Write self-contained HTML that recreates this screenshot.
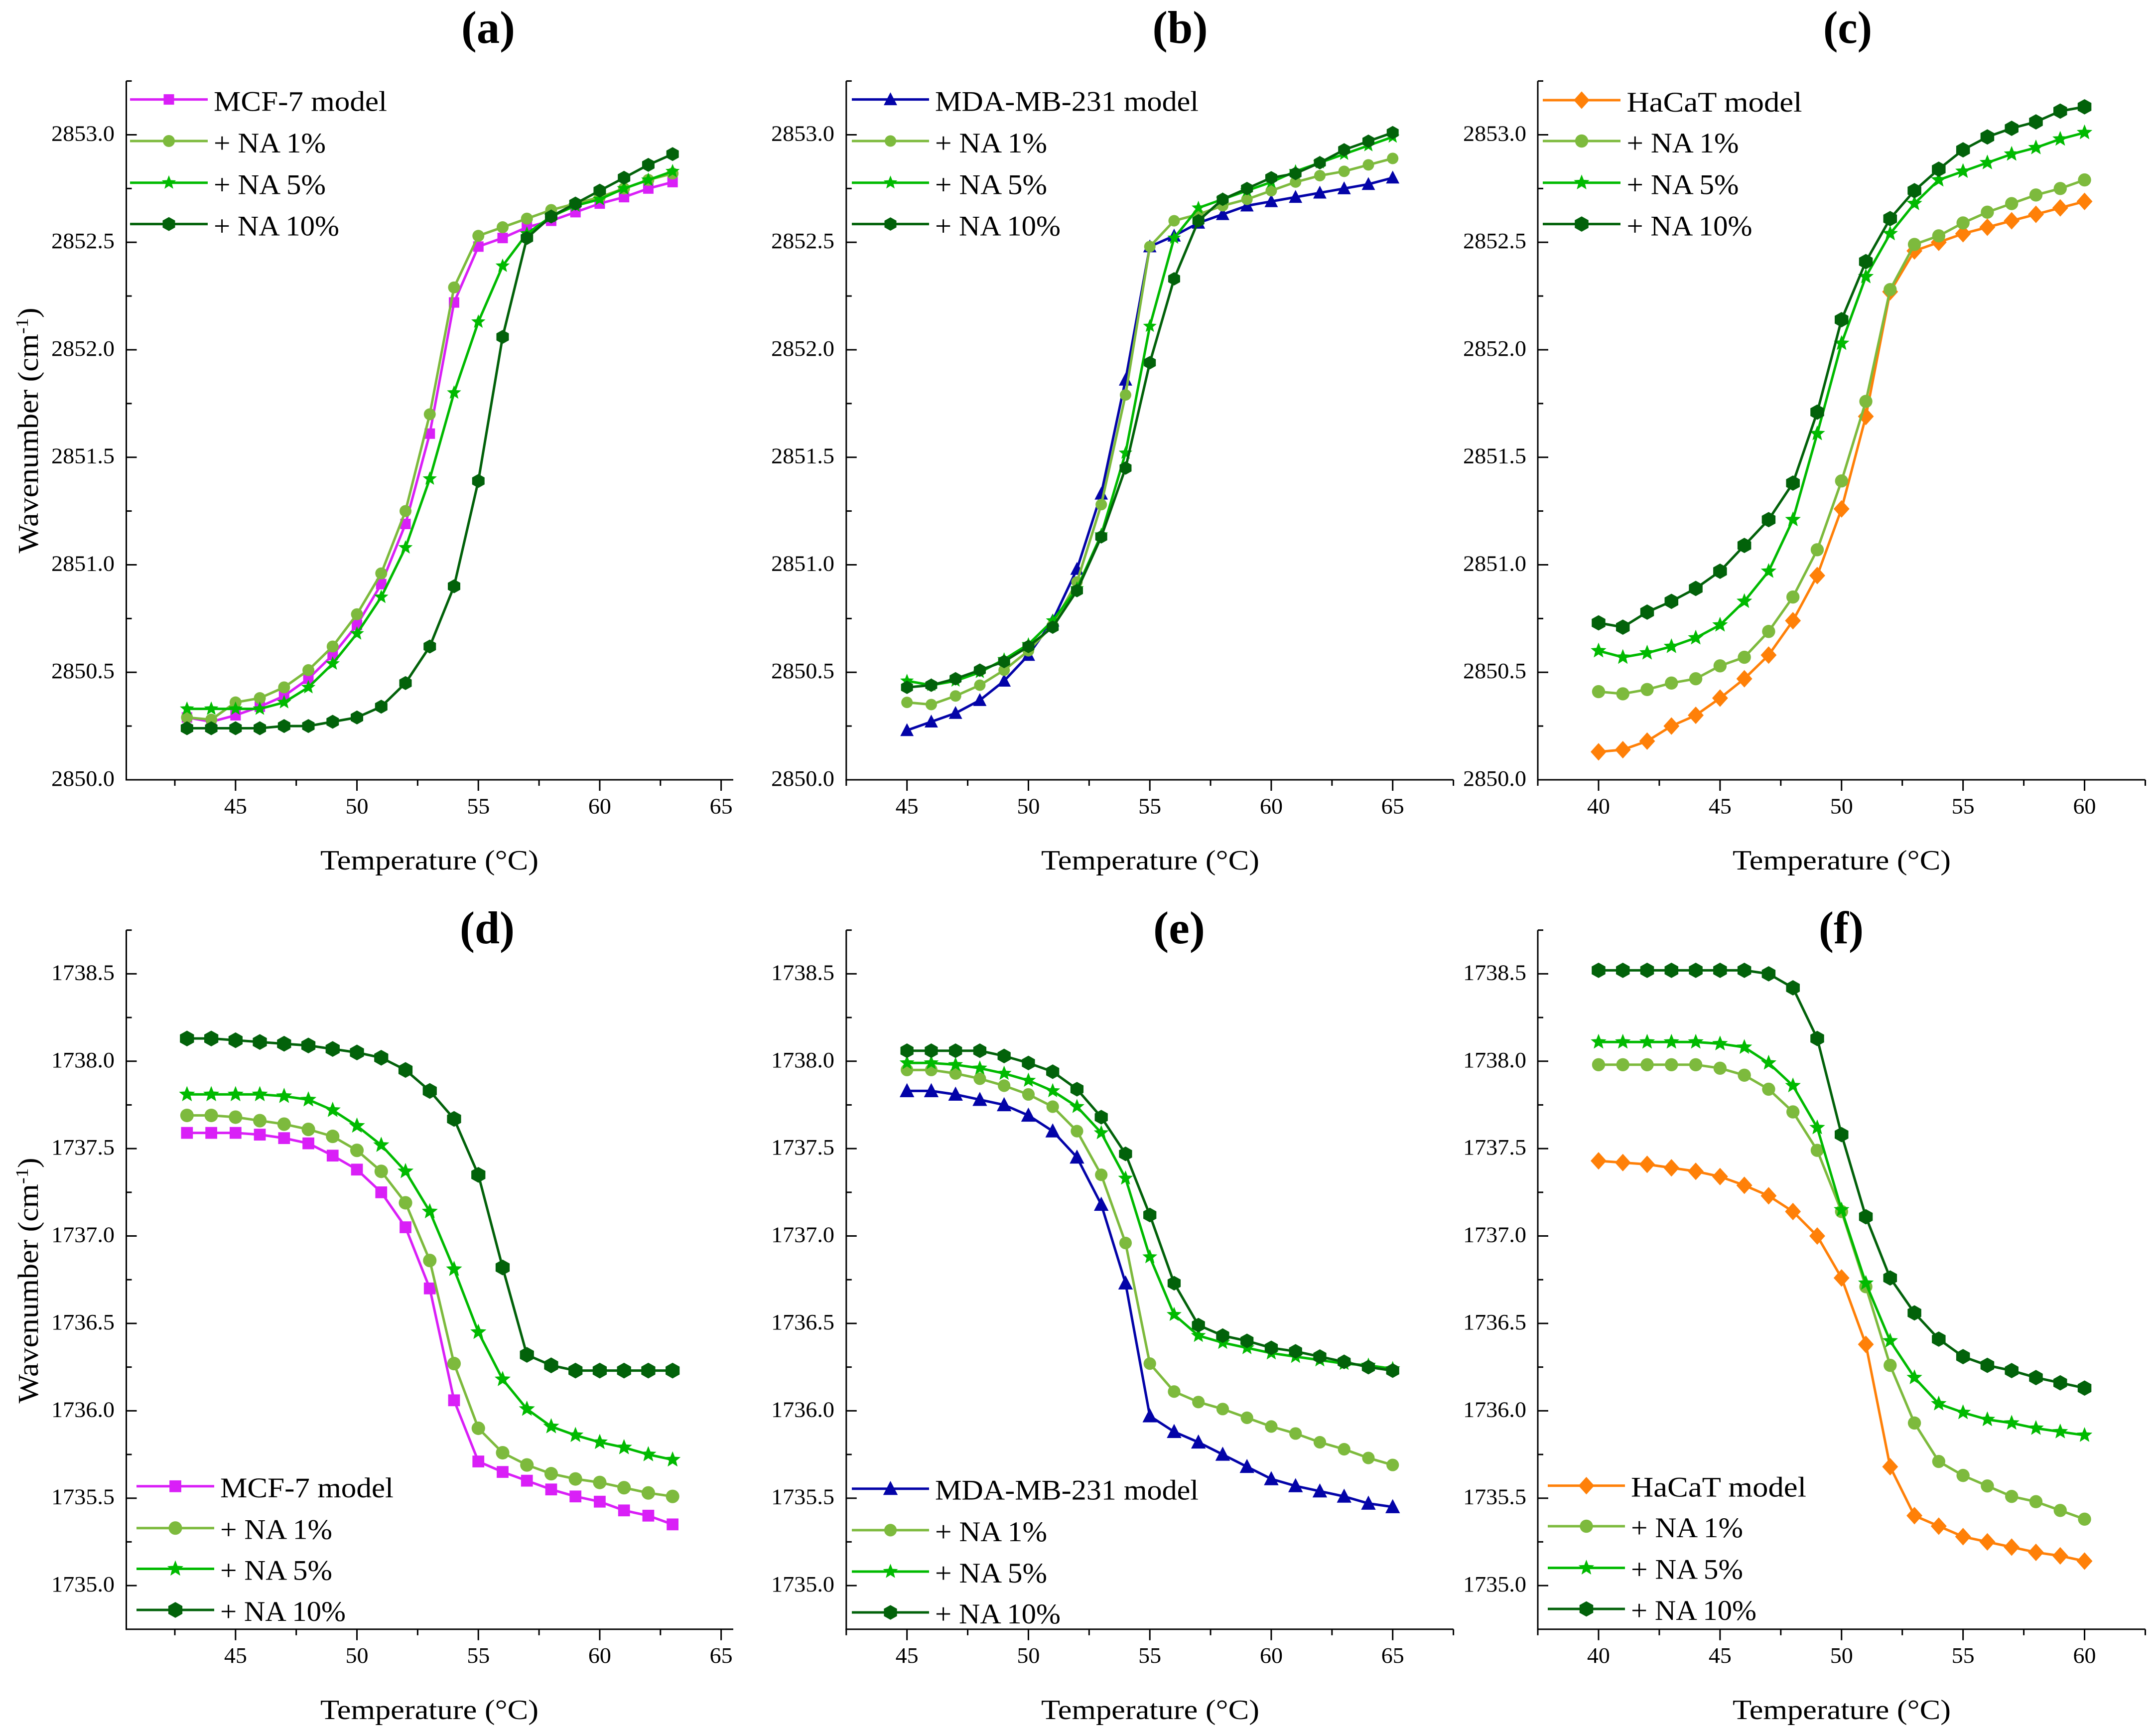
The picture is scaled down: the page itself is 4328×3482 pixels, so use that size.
<!DOCTYPE html>
<html lang="en">
<head>
<meta charset="utf-8">
<title>Wavenumber vs temperature panels</title>
<style>
html,body{margin:0;padding:0;background:#fff}
svg{display:block}
text{font-family:"Liberation Serif",serif;fill:#000}
</style>
</head>
<body>
<svg id="figure" xmlns="http://www.w3.org/2000/svg" width="4328" height="3482" viewBox="0 0 4328 3482">
<rect x="0" y="0" width="4328" height="3482" fill="#ffffff"/>
</svg>
<script>
// ---- shared categories and tick labels ----
const tempsAD = [43,44,45,46,47,48,49,50,51,52,53,54,55,56,57,58,59,60,61,62,63];
const tempsBE = [45,46,47,48,49,50,51,52,53,54,55,56,57,58,59,60,61,62,63,64,65];
const tempsCF = [40,41,42,43,44,45,46,47,48,49,50,51,52,53,54,55,56,57,58,59,60];
const xMajorAB = [45,50,55,60,65];
const xMinorAD = [42.5,47.5,52.5,57.5,62.5];
const xMinorBE = [42.5,47.5,52.5,57.5,62.5,67.5];
const xMajorCF = [40,45,50,55,60];
const xMinorCF = [37.5,42.5,47.5,52.5,57.5,62.5];
const yMajorTop = [2850.0,2850.5,2851.0,2851.5,2852.0,2852.5,2853.0];
const yMinorTop = [2850.25,2850.75,2851.25,2851.75,2852.25,2852.75,2853.25];
const yMajorBottom = [1735.0,1735.5,1736.0,1736.5,1737.0,1737.5,1738.0,1738.5];
const yMinorBottom = [1735.25,1735.75,1736.25,1736.75,1737.25,1737.75,1738.25,1738.75];

// ---- panel (a) ----
const aModel = [2850.29,2850.27,2850.30,2850.34,2850.39,2850.47,2850.58,2850.72,2850.91,2851.19,2851.61,2852.22,2852.48,2852.52,2852.57,2852.60,2852.64,2852.68,2852.71,2852.75,2852.78];
const aNa1 = [2850.29,2850.28,2850.36,2850.38,2850.43,2850.51,2850.62,2850.77,2850.96,2851.25,2851.70,2852.29,2852.53,2852.57,2852.61,2852.65,2852.68,2852.71,2852.75,2852.79,2852.82];
const aNa5 = [2850.33,2850.33,2850.33,2850.33,2850.36,2850.43,2850.54,2850.68,2850.85,2851.08,2851.40,2851.80,2852.13,2852.39,2852.54,2852.62,2852.67,2852.70,2852.75,2852.79,2852.83];
const aNa10 = [2850.24,2850.24,2850.24,2850.24,2850.25,2850.25,2850.27,2850.29,2850.34,2850.45,2850.62,2850.90,2851.39,2852.06,2852.52,2852.62,2852.68,2852.74,2852.80,2852.86,2852.91];

// ---- panel (b) ----
const bModel = [2850.23,2850.27,2850.31,2850.37,2850.46,2850.58,2850.74,2850.98,2851.33,2851.86,2852.48,2852.53,2852.59,2852.63,2852.67,2852.69,2852.71,2852.73,2852.75,2852.77,2852.80];
const bNa1 = [2850.36,2850.35,2850.39,2850.44,2850.51,2850.60,2850.72,2850.92,2851.28,2851.79,2852.48,2852.60,2852.63,2852.67,2852.70,2852.74,2852.78,2852.81,2852.83,2852.86,2852.89];
const bNa5 = [2850.46,2850.44,2850.46,2850.50,2850.56,2850.63,2850.74,2850.89,2851.14,2851.52,2852.11,2852.52,2852.66,2852.70,2852.74,2852.78,2852.83,2852.87,2852.91,2852.95,2852.99];
const bNa10 = [2850.43,2850.44,2850.47,2850.51,2850.55,2850.62,2850.71,2850.88,2851.13,2851.45,2851.94,2852.33,2852.60,2852.70,2852.75,2852.80,2852.82,2852.87,2852.93,2852.97,2853.01];

// ---- panel (c) ----
const cModel = [2850.13,2850.14,2850.18,2850.25,2850.30,2850.38,2850.47,2850.58,2850.74,2850.95,2851.26,2851.69,2852.27,2852.46,2852.50,2852.54,2852.57,2852.60,2852.63,2852.66,2852.69];
const cNa1 = [2850.41,2850.40,2850.42,2850.45,2850.47,2850.53,2850.57,2850.69,2850.85,2851.07,2851.39,2851.76,2852.28,2852.49,2852.53,2852.59,2852.64,2852.68,2852.72,2852.75,2852.79];
const cNa5 = [2850.60,2850.57,2850.59,2850.62,2850.66,2850.72,2850.83,2850.97,2851.21,2851.61,2852.03,2852.34,2852.54,2852.68,2852.79,2852.83,2852.87,2852.91,2852.94,2852.98,2853.01];
const cNa10 = [2850.73,2850.71,2850.78,2850.83,2850.89,2850.97,2851.09,2851.21,2851.38,2851.71,2852.14,2852.41,2852.61,2852.74,2852.84,2852.93,2852.99,2853.03,2853.06,2853.11,2853.13];

// ---- panel (d) ----
const dModel = [1737.59,1737.59,1737.59,1737.58,1737.56,1737.53,1737.46,1737.38,1737.25,1737.05,1736.70,1736.06,1735.71,1735.65,1735.60,1735.55,1735.51,1735.48,1735.43,1735.40,1735.35];
const dNa1 = [1737.69,1737.69,1737.68,1737.66,1737.64,1737.61,1737.57,1737.49,1737.37,1737.19,1736.86,1736.27,1735.90,1735.76,1735.69,1735.64,1735.61,1735.59,1735.56,1735.53,1735.51];
const dNa5 = [1737.81,1737.81,1737.81,1737.81,1737.80,1737.78,1737.72,1737.63,1737.52,1737.37,1737.14,1736.81,1736.45,1736.18,1736.01,1735.91,1735.86,1735.82,1735.79,1735.75,1735.72];
const dNa10 = [1738.13,1738.13,1738.12,1738.11,1738.10,1738.09,1738.07,1738.05,1738.02,1737.95,1737.83,1737.67,1737.35,1736.82,1736.32,1736.26,1736.23,1736.23,1736.23,1736.23,1736.23];

// ---- panel (e) ----
const eModel = [1737.83,1737.83,1737.81,1737.78,1737.75,1737.69,1737.60,1737.45,1737.18,1736.73,1735.97,1735.88,1735.82,1735.75,1735.68,1735.61,1735.57,1735.54,1735.51,1735.47,1735.45];
const eNa1 = [1737.95,1737.95,1737.93,1737.90,1737.86,1737.81,1737.74,1737.60,1737.35,1736.96,1736.27,1736.11,1736.05,1736.01,1735.96,1735.91,1735.87,1735.82,1735.78,1735.73,1735.69];
const eNa5 = [1737.99,1737.99,1737.98,1737.96,1737.93,1737.89,1737.83,1737.74,1737.59,1737.33,1736.88,1736.55,1736.43,1736.39,1736.36,1736.33,1736.31,1736.29,1736.27,1736.26,1736.24];
const eNa10 = [1738.06,1738.06,1738.06,1738.06,1738.03,1737.99,1737.94,1737.84,1737.68,1737.47,1737.12,1736.73,1736.49,1736.43,1736.40,1736.36,1736.34,1736.31,1736.28,1736.25,1736.23];

// ---- panel (f) ----
const fModel = [1737.43,1737.42,1737.41,1737.39,1737.37,1737.34,1737.29,1737.23,1737.14,1737.00,1736.76,1736.38,1735.68,1735.40,1735.34,1735.28,1735.25,1735.22,1735.19,1735.17,1735.14];
const fNa1 = [1737.98,1737.98,1737.98,1737.98,1737.98,1737.96,1737.92,1737.84,1737.71,1737.49,1737.14,1736.71,1736.26,1735.93,1735.71,1735.63,1735.57,1735.51,1735.48,1735.43,1735.38];
const fNa5 = [1738.11,1738.11,1738.11,1738.11,1738.11,1738.10,1738.08,1737.99,1737.86,1737.62,1737.15,1736.73,1736.40,1736.19,1736.04,1735.99,1735.95,1735.93,1735.90,1735.88,1735.86];
const fNa10 = [1738.52,1738.52,1738.52,1738.52,1738.52,1738.52,1738.52,1738.50,1738.42,1738.13,1737.58,1737.11,1736.76,1736.56,1736.41,1736.31,1736.26,1736.23,1736.19,1736.16,1736.13];

const colorMcf = '#d91ff7';
const colorMda = '#0303a8';
const colorHacat = '#ff8008';
const colorNa1 = '#7dba3d';
const colorNa5 = '#00ba00';
const colorNa10 = '#02620a';
const naLabels = ['+ NA 1%','+ NA 5%','+ NA 10%'];

const topGeom = {yMin:2850,yMax:2853.25,yBottom:1565,yTop:162.6,yMajor:yMajorTop,yMinor:yMinorTop,xLabelBase:1632.6,xTitleBase:1745,titleBase:86,yTitleCy:864};
const botGeom = {yMin:1734.75,yMax:1738.75,yBottom:3269.8,yTop:1866.7,yMajor:yMajorBottom,yMinor:yMinorBottom,xLabelBase:3337,xTitleBase:3450,titleBase:1893,yTitleCy:2570};

const panels = [
 {id:'a',title:'(a)',titleX:980,titleW:108,markScale:1,geom:topGeom,left:253.5,right:1472,xMin:40.5,xMax:65.5,xs:tempsAD,xMajor:xMajorAB,xMinor:xMinorAD,labelRight:230,xTitleCx:862,showY:true,
  model:{label:'MCF-7 model',shape:'square',color:colorMcf,vals:aModel,labelW:348},
  na:[aNa1,aNa5,aNa10],
  legend:{x1:261,x2:417,tx:429,rows:[199.6,283,366.7,449.6],base:23}},
 {id:'b',title:'(b)',titleX:2369,titleW:111,markScale:0.96,geom:topGeom,left:1698.8,right:2917.6,xMin:42.5,xMax:67.5,xs:tempsBE,xMajor:xMajorAB,xMinor:xMinorBE,labelRight:1675,xTitleCx:2309,showY:false,
  model:{label:'MDA-MB-231 model',shape:'triangle',color:colorMda,vals:bModel,labelW:529},
  na:[bNa1,bNa5,bNa10],
  legend:{x1:1710,x2:1865,tx:1877,rows:[199.6,283,366.7,449.6],base:23}},
 {id:'c',title:'(c)',titleX:3709,titleW:98,markScale:1.1,geom:topGeom,left:3087,right:4306.5,xMin:37.5,xMax:62.5,xs:tempsCF,xMajor:xMajorCF,xMinor:xMinorCF,labelRight:3064,xTitleCx:3697,showY:false,
  model:{label:'HaCaT model',shape:'diamond',color:colorHacat,vals:cModel,labelW:352},
  na:[cNa1,cNa5,cNa10],
  legend:{x1:3097,x2:3253,tx:3265.5,rows:[201,283,366.7,449.6],base:23}},
 {id:'d',title:'(d)',titleX:978,titleW:110,markScale:1.13,geom:botGeom,left:253.5,right:1472,xMin:40.5,xMax:65.5,xs:tempsAD,xMajor:xMajorAB,xMinor:xMinorAD,labelRight:230,xTitleCx:862,showY:true,
  model:{label:'MCF-7 model',shape:'square',color:colorMcf,vals:dModel,labelW:348},
  na:[dNa1,dNa5,dNa10],
  legend:{x1:274,x2:430,tx:442,rows:[2982.8,3066.7,3148.5,3231],base:22}},
 {id:'e',title:'(e)',titleX:2367,titleW:104,markScale:1.05,geom:botGeom,left:1698.8,right:2917.6,xMin:42.5,xMax:67.5,xs:tempsBE,xMajor:xMajorAB,xMinor:xMinorBE,labelRight:1675,xTitleCx:2309,showY:false,
  model:{label:'MDA-MB-231 model',shape:'triangle',color:colorMda,vals:eModel,labelW:529},
  na:[eNa1,eNa5,eNa10],
  legend:{x1:1710,x2:1865,tx:1877,rows:[2987.7,3070.9,3154,3236],base:22}},
 {id:'f',title:'(f)',titleX:3696,titleW:90,markScale:1.1,geom:botGeom,left:3087,right:4306.5,xMin:37.5,xMax:62.5,xs:tempsCF,xMajor:xMajorCF,xMinor:xMinorCF,labelRight:3064,xTitleCx:3697,showY:false,
  model:{label:'HaCaT model',shape:'diamond',color:colorHacat,vals:fModel,labelW:352},
  na:[fNa1,fNa5,fNa10],
  legend:{x1:3107,x2:3262,tx:3274,rows:[2981.6,3063,3146.6,3229],base:22}}
];

const SVGNS = 'http://www.w3.org/2000/svg';
const root = document.getElementById('figure');

function make(parent, tag, attrs){
  const el = document.createElementNS(SVGNS, tag);
  for (const k in attrs) el.setAttribute(k, attrs[k]);
  parent.appendChild(el);
  return el;
}
function xScale(p, v){ return p.left + (v - p.xMin) / (p.xMax - p.xMin) * (p.right - p.left); }
function yScale(g, v){ return g.yBottom + (v - g.yMin) / (g.yMax - g.yMin) * (g.yTop - g.yBottom); }

function linePath(pts){
  return pts.map((q, i) => (i ? 'L' : 'M') + q[0].toFixed(2) + ' ' + q[1].toFixed(2)).join('');
}

function polyPoints(list){ return list.map(q => q[0].toFixed(2) + ',' + q[1].toFixed(2)).join(' '); }

function drawMarker(parent, shape, cx, cy, color, name, k){
  let el;
  if (shape === 'square'){
    el = make(parent, 'rect', {x:cx-10.5*k, y:cy-10.5*k, width:21*k, height:21*k, fill:color});
  } else if (shape === 'circle'){
    el = make(parent, 'circle', {cx:cx, cy:cy, r:12*k, fill:color});
  } else if (shape === 'triangle'){
    el = make(parent, 'polygon', {points:polyPoints([[cx,cy-15*k],[cx+14*k,cy+12*k],[cx-14*k,cy+12*k]]), fill:color});
  } else if (shape === 'diamond'){
    el = make(parent, 'polygon', {points:polyPoints([[cx,cy-16*k],[cx+14.5*k,cy],[cx,cy+16*k],[cx-14.5*k,cy]]), fill:color});
  } else if (shape === 'hexagon'){
    el = make(parent, 'polygon', {points:polyPoints([[cx,cy-14*k],[cx+12.5*k,cy-7*k],[cx+12.5*k,cy+7*k],[cx,cy+14*k],[cx-12.5*k,cy+7*k],[cx-12.5*k,cy-7*k]]), fill:color});
  } else {
    const star = [];
    for (let i = 0; i < 10; i++){
      const r = (i % 2 ? 6.5 : 15) * k;
      const a = -Math.PI / 2 + i * Math.PI / 5;
      star.push([cx + r * Math.cos(a), cy + r * Math.sin(a)]);
    }
    el = make(parent, 'polygon', {points:polyPoints(star), fill:color});
  }
  
  
  return el;
}

function drawText(parent, str, x, y, size, anchor, width, weight){
  const t = make(parent, 'text', {x:x, y:y, 'font-size':size, 'text-anchor':anchor, textLength:width, lengthAdjust:'spacingAndGlyphs'});
  if (weight) t.setAttribute('font-weight', weight);
  t.textContent = str;
  return t;
}

function drawTick(parent, x1, y1, x2, y2, name){
  const l = make(parent, 'line', {x1:x1, y1:y1, x2:x2, y2:y2, stroke:'#000', 'stroke-width':3});
  
  
}

function drawPanel(p){
  const g = p.geom;
  const grp = make(root, 'g', {});
  
  

  const title = drawText(grp, p.title, p.titleX, g.titleBase, 92, 'middle', p.titleW, 'bold');
  
  

  // axes
  drawTick(grp, p.left, g.yTop, p.left, g.yBottom + 1.5, 'y-axis-line');
  drawTick(grp, p.left - 1.5, g.yBottom, p.right, g.yBottom, 'x-axis-line');

  g.yMajor.forEach(v => {
    const y = yScale(g, v);
    drawTick(grp, p.left, y, p.left + 21, y, 'y-major-tick');
    const t = drawText(grp, v.toFixed(1), p.labelRight, y + 12, 44, 'end', 127);
    
    
  });
  g.yMinor.forEach(v => {
    const y = yScale(g, v);
    drawTick(grp, p.left, y, p.left + 11, y, 'y-minor-tick');
  });
  p.xMajor.forEach(v => {
    const x = xScale(p, v);
    drawTick(grp, x, g.yBottom, x, g.yBottom + 22, 'x-major-tick');
    const t = drawText(grp, String(v), x, g.xLabelBase, 44, 'middle', 46);
    
    
  });
  p.xMinor.forEach(v => {
    const x = xScale(p, v);
    drawTick(grp, x, g.yBottom, x, g.yBottom + 12, 'x-minor-tick');
  });

  const xt = drawText(grp, 'Temperature (°C)', p.xTitleCx, g.xTitleBase, 56, 'middle', 438);
  
  

  if (p.showY){
    const yt = make(grp, 'text', {x:0, y:0, 'font-size':58, 'text-anchor':'middle', textLength:493, lengthAdjust:'spacingAndGlyphs', transform:'translate(76 ' + g.yTitleCy + ') rotate(-90)'});
    
    
    yt.appendChild(document.createTextNode('Wavenumber (cm'));
    const sup = make(yt, 'tspan', {dy:-20, 'font-size':36});
    sup.textContent = '-1';
    const close = make(yt, 'tspan', {dy:20});
    close.textContent = ')';
  }

  // series
  const series = [
    {name:'model', shape:p.model.shape, color:p.model.color, vals:p.model.vals},
    {name:'na-1', shape:'circle', color:colorNa1, vals:p.na[0]},
    {name:'na-5', shape:'star', color:colorNa5, vals:p.na[1]},
    {name:'na-10', shape:'hexagon', color:colorNa10, vals:p.na[2]}
  ];
  series.forEach(s => {
    const sg = make(grp, 'g', {});
    
    
    const pts = s.vals.map((v, i) => [xScale(p, p.xs[i]), yScale(g, v)]);
    const line = make(sg, 'path', {d:linePath(pts), fill:'none', stroke:s.color, 'stroke-width':5, 'stroke-linejoin':'round'});
    
    
    pts.forEach(q => drawMarker(sg, s.shape, q[0], q[1], s.color, 'point-' + s.name, p.markScale));
  });

  // legend
  const lg = make(grp, 'g', {});
  
  
  const L = p.legend;
  const mid = (L.x1 + L.x2) / 2;
  const naWidths = [225,225,252];
  series.forEach((s, i) => {
    const y = L.rows[i];
    const ll = make(lg, 'line', {x1:L.x1, y1:y, x2:L.x2, y2:y, stroke:s.color, 'stroke-width':5});
    
    
    drawMarker(lg, s.shape, mid, y, s.color, 'legend-marker', p.markScale);
    const txt = i === 0 ? p.model.label : naLabels[i - 1];
    const w = i === 0 ? p.model.labelW : naWidths[i - 1];
    const t = drawText(lg, txt, L.tx, y + L.base, 57, 'start', w);
    
    
  });
}

panels.forEach(drawPanel);
</script>
</body>
</html>
